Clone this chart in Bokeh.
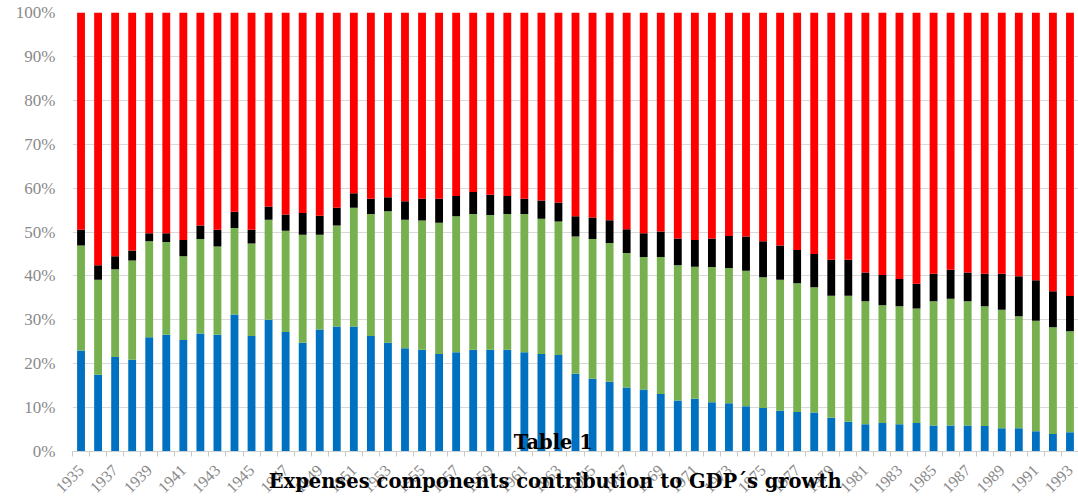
from math import pi
from bokeh.plotting import figure
from bokeh.models import FixedTicker, PrintfTickFormatter, Label, ColumnDataSource
from bokeh.embed import file_html
from bokeh.resources import INLINE

years = list(range(1935, 1994))

# shares (%) of each component
blue = [23.0, 17.5, 21.5, 20.9, 26.0, 26.6, 25.4, 26.9, 26.6, 31.2,
        26.3, 30.0, 27.2, 24.8, 27.8, 28.5, 28.5, 26.3, 24.8, 23.5,
        23.2, 22.2, 22.6, 23.2, 23.2, 23.2, 22.6, 22.2, 22.0, 17.7,
        16.6, 15.9, 14.6, 14.1, 13.1, 11.6, 12.0, 11.2, 11.0, 10.3,
        9.9, 9.3, 9.0, 8.9, 7.7, 6.8, 6.2, 6.5, 6.2, 6.5,
        5.9, 5.9, 5.9, 5.8, 5.3, 5.3, 4.6, 4.0, 4.4]
green = [23.9, 21.6, 20.0, 22.6, 21.9, 21.1, 19.1, 21.5, 20.1, 19.7,
         21.1, 22.8, 23.1, 24.6, 21.6, 23.0, 27.0, 27.8, 29.9, 29.3,
         29.4, 29.9, 31.0, 30.9, 30.7, 30.9, 31.5, 30.8, 30.4, 31.3,
         31.8, 31.6, 30.6, 30.2, 31.2, 30.8, 30.1, 30.8, 30.8, 30.9,
         29.8, 29.8, 29.3, 28.5, 27.8, 28.7, 28.0, 26.8, 26.9, 26.1,
         28.3, 28.9, 28.3, 27.3, 27.0, 25.5, 25.2, 24.3, 23.0]
black = [3.6, 3.3, 3.0, 2.3, 1.8, 2.0, 3.7, 3.1, 3.8, 3.7,
         3.1, 3.0, 3.7, 4.9, 4.3, 4.0, 3.3, 3.5, 3.2, 4.2,
         5.0, 5.5, 4.6, 5.0, 4.6, 4.1, 3.5, 4.2, 4.3, 4.6,
         4.9, 5.2, 5.4, 5.4, 5.8, 6.1, 6.1, 6.5, 7.3, 7.8,
         8.2, 7.8, 7.6, 7.6, 8.2, 8.2, 6.6, 6.9, 6.2, 5.6,
         6.3, 6.6, 6.6, 7.4, 8.2, 9.1, 9.2, 8.2, 8.0]
red = [49.5, 57.6, 55.5, 54.2, 50.3, 50.3, 51.8, 48.5, 49.5, 45.4,
       49.5, 44.2, 46.0, 45.7, 46.3, 44.5, 41.2, 42.4, 42.1, 43.0,
       42.4, 42.4, 41.8, 40.9, 41.5, 41.8, 42.4, 42.8, 43.3, 46.4,
       46.7, 47.3, 49.4, 50.3, 49.9, 51.5, 51.8, 51.5, 50.9, 51.0,
       52.1, 53.1, 54.1, 55.0, 56.3, 56.3, 59.2, 59.8, 60.7, 61.8,
       59.5, 58.6, 59.2, 59.5, 59.5, 60.1, 61.0, 63.5, 64.6]

series = ["blue", "green", "black", "red"]
colors = ["#0070C0", "#77B04F", "#000000", "#FF0000"]
y_ticks = list(range(0, 101, 10))
x_label_years = years[::2]
title_lines = ["Table 1", "Expenses components contribution to GDP\u00b4s growth"]

source = ColumnDataSource(dict(year=years, blue=blue, green=green, black=black, red=red))

p = figure(frame_width=1006, frame_height=439,
           x_range=(1934.5, 1993.5), y_range=(0, 100),
           output_backend="svg", toolbar_location=None,
           min_border_left=72, min_border_right=0, min_border_top=12, min_border_bottom=46)

p.vbar_stack(series, x="year", width=0.46, color=colors, source=source, line_width=0)

p.outline_line_color = None
p.xgrid.grid_line_color = None
p.ygrid.grid_line_color = "#d9d9d9"
p.ygrid.ticker = FixedTicker(ticks=y_ticks)

p.yaxis.ticker = FixedTicker(ticks=y_ticks)
p.yaxis.formatter = PrintfTickFormatter(format="%d%%")
p.yaxis.axis_line_color = None
p.yaxis.major_tick_line_color = None
p.yaxis.minor_tick_line_color = None
p.yaxis.major_tick_out = 0
p.yaxis.major_label_standoff = 17
p.yaxis.major_label_text_font = "Liberation Serif"
p.yaxis.major_label_text_font_size = "17px"
p.yaxis.major_label_text_color = "#8a8a8a"

p.xaxis.ticker = FixedTicker(ticks=x_label_years,
                             minor_ticks=[y - 0.5 for y in years] + [years[-1] + 0.5])
p.xaxis.axis_line_color = "#d0d0d0"
p.xaxis.major_tick_line_color = None
p.xaxis.major_tick_out = 0
p.xaxis.major_tick_in = 0
p.xaxis.minor_tick_line_color = "#c8c8c8"
p.xaxis.minor_tick_in = 0
p.xaxis.minor_tick_out = 5
p.xaxis.major_label_orientation = pi / 4
p.xaxis.major_label_standoff = 11
p.xaxis.major_label_text_font = "Liberation Serif"
p.xaxis.major_label_text_font_size = "16px"
p.xaxis.major_label_text_color = "#8a8a8a"

# second title line drawn as the x axis label, overlapping the tick labels
p.xaxis.axis_label = title_lines[1] + "\u00a0" * 6
p.xaxis.axis_label_standoff = -31
p.xaxis.axis_label_text_font = "DejaVu Serif"
p.xaxis.axis_label_text_font_style = "bold"
p.xaxis.axis_label_text_font_size = "19.5px"
p.xaxis.axis_label_text_color = "#000000"

p.add_layout(Label(x=1962.7, y=2.0, text=title_lines[0], text_align="center",
                   text_baseline="alphabetic", text_font="DejaVu Serif",
                   text_font_style="bold", text_font_size="19.5px", text_color="#000000"))

open("out.html", "w").write(file_html(p, INLINE))
